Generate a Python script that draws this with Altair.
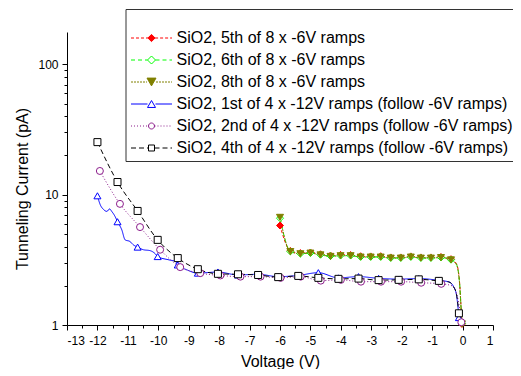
import altair as alt
import pandas as pd

names = [
    "SiO2, 5th of 8 x -6V ramps",
    "SiO2, 6th of 8 x -6V ramps",
    "SiO2, 8th of 8 x -6V ramps",
    "SiO2, 1st of 4 x -12V ramps (follow -6V ramps)",
    "SiO2, 2nd of 4 x -12V ramps (follow -6V ramps)",
    "SiO2, 4th of 4 x -12V ramps (follow -6V ramps)",
]
colors = ["#FF0000", "#00FF00", "#808000", "#0000FF", "#8B1C8B", "#000000"]
fills = ["#FF0000", "#FFFFFF", "#808000", "#FFFFFF", "#FFFFFF", "#FFFFFF"]
shapes = ["diamond", "diamond", "triangle-down", "triangle-up", "circle", "square"]
sizes = [49, 49, 64, 45, 40, 45]
dashes = [[3, 2], [4, 3], [2, 1], [1, 0], [1, 2], [5, 3]]

# -6V ramps (marker points)
v_6 = [-6.0, -5.66, -5.33, -5.0, -4.67, -4.34, -4.01, -3.68, -3.35, -3.02,
       -2.69, -2.36, -2.03, -1.70, -1.37, -1.04, -0.71, -0.38, -0.02]
i_red = [5.8, 3.70, 3.56, 3.60, 3.49, 3.41, 3.45, 3.44, 3.37, 3.36,
         3.37, 3.30, 3.30, 3.36, 3.30, 3.30, 3.32, 3.20, 1.02]
i_green = [6.6, 3.67, 3.53, 3.57, 3.46, 3.38, 3.41, 3.41, 3.33, 3.33,
           3.33, 3.27, 3.27, 3.33, 3.27, 3.27, 3.30, 3.17, 1.03]
i_olive = [6.7, 3.66, 3.52, 3.56, 3.45, 3.36, 3.40, 3.40, 3.32, 3.32,
           3.32, 3.26, 3.26, 3.32, 3.26, 3.26, 3.29, 3.16, 1.02]
# extra line-only points (-6V ramps, near 0 V)
v_6_tail = [-0.2, -0.1, -0.05]
i_red_tail = [2.95, 2.15, 1.38]
i_green_tail = [2.92, 2.12, 1.36]
i_olive_tail = [2.90, 2.10, 1.35]

# -12V ramps (marker points)
v_12 = [-12.0, -11.34, -10.68, -10.02, -9.36, -8.70, -8.04, -7.38, -6.72, -6.06,
        -5.40, -4.74, -4.08, -3.42, -2.76, -2.10, -1.44, -0.78, -0.12]
i_blue = [9.8, 6.2, 3.96, 3.35, 2.89, 2.50, 2.55, 2.42, 2.45, 2.35,
          2.40, 2.52, 2.30, 2.35, 2.28, 2.25, 2.27, 2.20, 1.14]
i_black = [25.3, 12.5, 7.5, 4.5, 3.26, 2.68, 2.47, 2.45, 2.42, 2.33,
           2.38, 2.30, 2.26, 2.27, 2.21, 2.22, 2.24, 2.18, 1.23]
v_purple = [-11.92, -11.26, -10.60, -9.94, -9.28, -8.62, -7.96, -7.30, -6.64, -5.98,
            -5.32, -4.66, -4.00, -3.34, -2.68, -2.02, -1.36, -0.70, -0.04]
i_purple = [15.2, 8.5, 5.64, 3.78, 2.78, 2.50, 2.40, 2.35, 2.35, 2.30,
            2.35, 2.19, 2.22, 2.15, 2.15, 2.15, 2.11, 2.07, 1.05]
# extra line-only points
v_blue_extra = [-11.91, -11.8, -11.69, -11.6, -11.53, -11.42, -11.2, -11.09, -10.93, -10.82,
                -10.49, -10.27, -10.1, -9.65, -9.43, -9.06, -0.45, -0.3, -0.2]
i_blue_extra = [8.4, 7.7, 7.44, 7.77, 7.44, 6.8, 5.38, 4.5, 4.37, 4.12,
                3.78, 3.72, 3.52, 3.16, 3.07, 2.65, 2.14, 1.98, 1.7]
v_black_extra = [-0.45, -0.3, -0.2]
i_black_extra = [2.14, 1.97, 1.72]
v_purple_extra = [-0.35, -0.2, -0.1]
i_purple_extra = [2.0, 1.75, 1.35]

x_ticks = list(range(-13, 2))
x_minor = [t + 0.5 for t in range(-13, 1)]
y_ticks = [1, 10, 100]
y_minor = [2, 3, 4, 5, 6, 7, 8, 9, 20, 30, 40, 50, 60, 70, 80, 90]

marker_sets = [
    (names[0], v_6, i_red), (names[1], v_6, i_green), (names[2], v_6, i_olive),
    (names[3], v_12, i_blue), (names[4], v_purple, i_purple), (names[5], v_12, i_black),
]
extra_sets = [
    (names[0], v_6_tail, i_red_tail), (names[1], v_6_tail, i_green_tail),
    (names[2], v_6_tail, i_olive_tail), (names[3], v_blue_extra, i_blue_extra),
    (names[4], v_purple_extra, i_purple_extra), (names[5], v_black_extra, i_black_extra),
]

mrows = []
for s, vs, ys in marker_sets:
    for v, y in zip(vs, ys):
        mrows.append({"series": s, "V": v, "I": y})
marker_df = pd.DataFrame(mrows)
lrows = list(mrows)
for s, vs, ys in extra_sets:
    for v, y in zip(vs, ys):
        lrows.append({"series": s, "V": v, "I": y})
line_df = pd.DataFrame(lrows).sort_values(["series", "V"])

# ---- legend symbols: line + marker drawn as one custom symbol path ----
U = 20.5  # px per path unit (sqrt(symbolSize)/2)


def seg(x0, x1, dash):
    d, g = dash
    if g == 0:
        return [f"M{x0:.4f},0L{x1:.4f},0"]
    out, x = [], x0
    while x < x1 - 1e-6:
        xe = min(x + d / U, x1)
        out.append(f"M{x:.4f},0L{xe:.4f},0")
        x = xe + g / U
    return out


def marker_path(shape, hp):
    h = hp / U
    if shape == "diamond":
        return f"M0,{-h:.4f}L{h:.4f},0L0,{h:.4f}L{-h:.4f},0Z"
    if shape == "square":
        return f"M{-h:.4f},{-h:.4f}L{h:.4f},{-h:.4f}L{h:.4f},{h:.4f}L{-h:.4f},{h:.4f}Z"
    if shape == "circle":
        return f"M{h:.4f},0A{h:.4f},{h:.4f} 0 1,1 {-h:.4f},0A{h:.4f},{h:.4f} 0 1,1 {h:.4f},0Z"
    t = 0.866 * h
    if shape == "triangle-up":
        return f"M0,{-t:.4f}L{h:.4f},{t:.4f}L{-h:.4f},{t:.4f}Z"
    return f"M0,{t:.4f}L{-h:.4f},{-t:.4f}L{h:.4f},{-t:.4f}Z"


legend_half = [3.6, 4.0, 4.5, 4.0, 3.0, 3.0]
legend_shapes = []
for shp, hp, dsh in zip(shapes, legend_half, dashes):
    m = hp / U
    parts = seg(-1.0, -m, dsh) + seg(m, 1.0, dsh) + [marker_path(shp, hp)]
    legend_shapes.append("".join(parts))

FONT = "Liberation Sans"
MINUS_FIX = "'' + datum.value"

xscale = alt.Scale(domain=[-13, 1], nice=False, zero=False)
yscale = alt.Scale(type="log", domain=[1, 177], nice=False)

lines = alt.Chart(line_df).mark_line(strokeWidth=1, interpolate="monotone").encode(
    x=alt.X("V:Q", scale=xscale, axis=alt.Axis(
        values=x_ticks, labelExpr=MINUS_FIX, labelOverlap=False, orient="bottom",
        tickSize=5, labelPadding=5,
        title="Voltage (V)", titleFontSize=16, titleY=28, titleBaseline="top")),
    y=alt.Y("I:Q", scale=yscale, axis=alt.Axis(
        values=y_ticks, labelExpr=MINUS_FIX, labelOverlap=False, orient="left",
        tickSize=5, labelPadding=4,
        title="Tunneling Current (pA)", titleFontSize=16, titleX=-40, titleY=156.5,
        titleAngle=270, titleBaseline="alphabetic", titleAlign="center")),
    stroke=alt.Stroke("series:N", scale=alt.Scale(domain=names, range=colors), legend=None),
    strokeDash=alt.StrokeDash("series:N", scale=alt.Scale(domain=names, range=dashes), legend=None),
    order="V:Q",
)

points = alt.Chart(marker_df).mark_point(filled=True, strokeWidth=1, opacity=1).encode(
    x=alt.X("V:Q", scale=xscale, axis=None),
    y=alt.Y("I:Q", scale=yscale, axis=None),
    stroke=alt.Stroke("series:N", scale=alt.Scale(domain=names, range=colors), legend=None),
    fill=alt.Fill("series:N", scale=alt.Scale(domain=names, range=fills), legend=None),
    shape=alt.Shape("series:N", scale=alt.Scale(domain=names, range=shapes), legend=None),
    size=alt.Size("series:N", scale=alt.Scale(domain=names, range=sizes), legend=None),
)

minor = alt.Chart(marker_df).mark_point(opacity=0).encode(
    x=alt.X("V:Q", scale=xscale, axis=alt.Axis(
        values=x_minor, labels=False, orient="bottom", tickSize=3, title=None, domain=False)),
    y=alt.Y("I:Q", scale=yscale, axis=alt.Axis(
        values=y_minor, labels=False, orient="left", tickSize=3, title=None, domain=False)),
)

leg = alt.Legend(
    orient="none", legendX=58.5, legendY=-23, title=" ", titleFontSize=12, titlePadding=4,
    labelFont=FONT, labelFontSize=16, labelColor="black", labelLimit=500, labelOffset=4,
    symbolSize=1681, symbolStrokeWidth=1, symbolOffset=0, symbolOpacity=1,
    clipHeight=16, rowPadding=6, padding=5, strokeColor="#333333", fillColor="white",
)
legend_df = pd.DataFrame({"series": names})
legend_layer = alt.Chart(legend_df).mark_point(filled=True, opacity=0).encode(
    stroke=alt.Stroke("series:N", scale=alt.Scale(domain=names, range=colors), legend=leg),
    fill=alt.Fill("series:N", scale=alt.Scale(domain=names, range=fills), legend=leg),
    shape=alt.Shape("series:N", scale=alt.Scale(domain=names, range=legend_shapes), legend=leg),
)

chart = alt.layer(lines, points, minor, legend_layer).resolve_axis(
    x="independent", y="independent"
).resolve_scale(
    stroke="independent", fill="independent", shape="independent"
).properties(
    width=426, height=293,
    padding={"left": 59, "top": 24, "right": 20, "bottom": 44},
    autosize=alt.AutoSizeParams(type="none"),
).configure_view(stroke=None).configure_axis(
    labelFont=FONT, titleFont=FONT, labelFontSize=12, labelColor="black",
    titleColor="black", titleFontWeight="normal", tickColor="black",
    domainColor="black", grid=False,
)

chart.save("out.html", embed_options={"renderer": "svg", "actions": False})
